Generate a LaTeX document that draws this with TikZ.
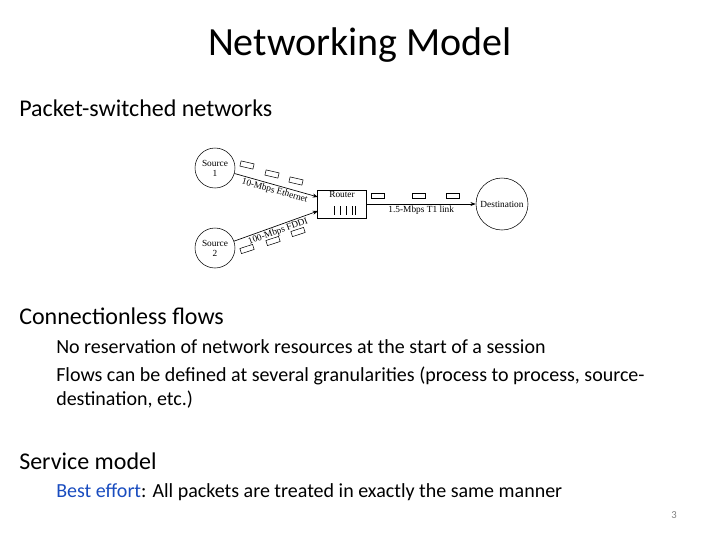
\documentclass[tikz,border=0pt]{standalone}
\usepackage{fontspec}
\setmainfont{Carlito}
\newfontfamily\diag{Liberation Serif}
\usetikzlibrary{arrows.meta}
\begin{document}
\begin{tikzpicture}[x=0.75pt,y=-0.75pt,
 circ/.style={draw,circle,minimum size=#1*0.75pt,inner sep=0pt,font=\diag\fontsize{7}{7.5}\selectfont,align=center},
 pk/.style={draw,minimum width=10pt,minimum height=4pt,inner sep=0pt},
 lnk/.style={-{Stealth[length=4pt]},line width=0.5pt},
 lbl/.style={font=\diag\fontsize{7}{7.5}\selectfont,inner sep=1pt},
 body/.style={anchor=west,inner sep=0pt,font=\fontsize{18}{21}\selectfont},
 sub/.style={anchor=west,inner sep=0pt,font=\fontsize{15}{18}\selectfont}]
\useasboundingbox (0,0) rectangle (720,540);
\node[font=\fontsize{30}{34}\selectfont] (title) at (360,45) {Networking Model};
\node[body] (t1) at (19,108) {Packet-switched networks};
\node[body] (t2) at (19,316) {Connectionless flows};
\node[sub] (t3) at (56,347) {No reservation of network resources at the start of a session};
\node[sub] (t4) at (56,376) {Flows can be defined at several granularities (process to process, source-};
\node[sub] (t5) at (56,400) {destination, etc.)};
\node[body] (t6) at (19,461) {Service model};
\node[sub] (t7) at (56,492) {\textcolor[rgb]{0.1,0.3,0.75}{Best effort}: All packets are treated in exactly the same manner};
\node[font=\fontsize{8}{9}\selectfont,text=gray] (pg) at (674,515) {3};
% diagram
\node[circ=40] (s1) at (215,168) {Source\\1};
\node[circ=40] (s2) at (215,248) {Source\\2};
\node[circ=52] (d) at (502,204) {Destination};
\node[draw,minimum width=49*0.75pt,minimum height=28*0.75pt,inner sep=0pt] (r) at (342,204) {};
\node[lbl,anchor=north] (rl) at (r.north) {Router};
\foreach \x in {334,340,346,352,355}{\draw (\x,206) -- (\x,215);}
\coordinate (a1) at (318,197);
\coordinate (a2) at (318,211);
\draw[lnk] (s1) -- (a1) node[lbl,midway,below,sloped] {10-Mbps Ethernet};
\draw[lnk] (s2) -- (a2) node[lbl,midway,below,sloped] {100-Mbps FDDI};
\draw[lnk] (r) -- (d) node[lbl,midway,below] {1.5-Mbps T1 link};
\foreach \x in {378,419,453}{\node[pk] at (\x,196) {};}
\foreach \x/\y in {247/165, 272/174, 296/181}{\node[pk,rotate=-13] at (\x,\y) {};}
\foreach \x/\y in {247/249, 273/241, 298/232}{\node[pk,rotate=18] at (\x,\y) {};}
\end{tikzpicture}
\end{document}
